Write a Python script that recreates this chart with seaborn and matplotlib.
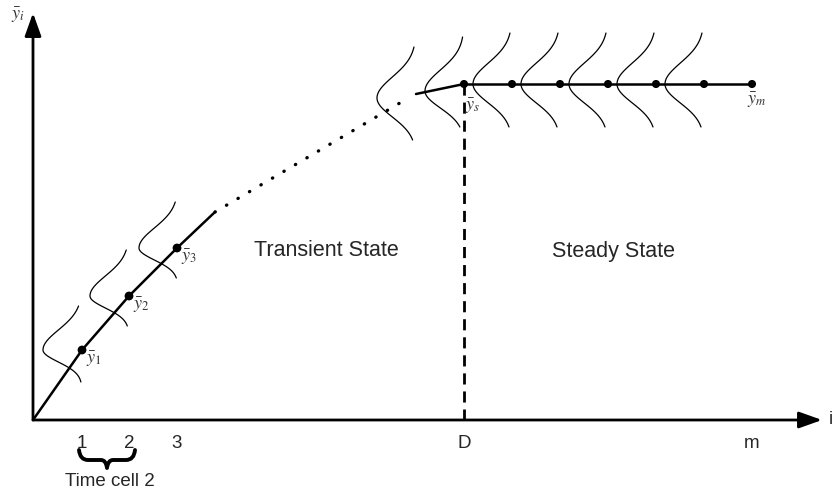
import numpy as np
import matplotlib
matplotlib.use('Agg')
import matplotlib.pyplot as plt
import seaborn as sns
from matplotlib.path import Path
from matplotlib.patches import PathPatch

# diagram drawn in pixel space of the original picture (x right, y down)
origin = (33, 420)

# transient means ybar_1..ybar_3
trans_x = [82, 129, 177]
trans_y = [350, 296, 248]
# end of the solid transient part, then the dotted gap
trans_end = (215, 212)
dot_end = (410, 97)
# short solid run into ybar_s
approach_start = (416, 94)
# steady state means ybar_s .. ybar_m
steady_x = [464, 512, 560, 608, 656, 704, 752]
steady_level = 84

# distribution curves: baseline x, centre y, extent above, extent below, sigma above, sigma below
curve_x = [82, 129, 178, 416, 464, 512, 560, 608, 656, 704]
curve_y = [350, 296, 248, 98, 91, 84, 84, 84, 84, 84]
curve_up = [44, 46, 46, 51, 54, 51, 51, 51, 51, 51]
curve_dn = [32, 30, 30, 42, 36, 43, 43, 43, 43, 43]
curve_sup = [20, 20, 20, 21, 21, 21, 21, 21, 21, 21]
curve_sdn = [12, 12, 12, 19, 17, 19, 19, 19, 19, 19]
curve_amp = 39

tick_labels = ['1', '2', '3', 'D', 'm']
tick_pos = [82, 129, 177, 464, 752]

sns.set_style('white')
plt.rcParams['mathtext.fontset'] = 'stix'
plt.rcParams['font.family'] = ['Liberation Sans', 'DejaVu Sans']

fig = plt.figure(figsize=(8.36, 4.92), dpi=100)
ax = fig.add_axes([0, 0, 1, 1])
ax.set_xlim(0, 836)
ax.set_ylim(492, 0)
ax.axis('off')

# axes with arrows
arrow = dict(arrowstyle='-|>,head_length=0.7,head_width=0.25', lw=2, color='black',
             mutation_scale=20, shrinkA=0, shrinkB=0)
ax.annotate('', xy=(822, origin[1]), xytext=origin, arrowprops=arrow)
ax.annotate('', xy=(origin[0], 13), xytext=origin, arrowprops=arrow)

# distributions
for cx, cy, up, dn, su, sd in zip(curve_x, curve_y, curve_up, curve_dn, curve_sup, curve_sdn):
    t_up = np.linspace(-up, 0, 60)
    t_dn = np.linspace(0, dn, 60)
    xs = np.concatenate([cx - curve_amp * np.exp(-t_up ** 2 / (2 * su ** 2)),
                         cx - curve_amp * np.exp(-t_dn ** 2 / (2 * sd ** 2))])
    ys = np.concatenate([cy + t_up, cy + t_dn])
    sns.lineplot(x=xs, y=ys, sort=False, estimator=None, ax=ax, color='black', lw=0.9)

# mean path
sx = [origin[0]] + trans_x + [trans_end[0]]
sy = [origin[1]] + trans_y + [trans_end[1]]
sns.lineplot(x=sx, y=sy, sort=False, estimator=None, ax=ax, color='black', lw=1.8)
ax.plot([trans_end[0], dot_end[0]], [trans_end[1], dot_end[1]], color='black', lw=2.4,
        linestyle=(0, (0.1, 3.9)), dash_capstyle='round')
sns.lineplot(x=[approach_start[0], steady_x[0]], y=[approach_start[1], steady_level],
             sort=False, estimator=None, ax=ax, color='black', lw=1.8)
sns.lineplot(x=steady_x, y=[steady_level] * len(steady_x), sort=False, estimator=None,
             ax=ax, color='black', lw=1.8)
ax.plot([steady_x[0], steady_x[0]], [steady_level, origin[1]], color='black', lw=2,
        linestyle=(0, (4, 2.5)))

sns.scatterplot(x=trans_x, y=trans_y, ax=ax, color='black', s=40, edgecolor='none', zorder=5)
sns.scatterplot(x=steady_x, y=[steady_level] * len(steady_x), ax=ax, color='black', s=34,
                edgecolor='none', zorder=5)

# mean labels
lab_col = '#333333'
ax.text(11, 15, r'$\bar{y}_i$', fontsize=13, color=lab_col, ha='left', va='center')
for i, (x, y) in enumerate(zip(trans_x, trans_y)):
    ax.text(x + 4, y + 9, r'$\bar{y}_%d$' % (i + 1), fontsize=13, color=lab_col,
            ha='left', va='center')
ax.text(steady_x[0] + 1, steady_level + 22, r'$\bar{y}_s$', fontsize=13, color=lab_col,
        ha='left', va='center')
ax.text(steady_x[-1] - 5, steady_level + 16, r'$\bar{y}_m$', fontsize=13, color=lab_col,
        ha='left', va='center')

# region labels
ax.text(326, 251, 'Transient State', fontsize=15.5, ha='center', va='center')
ax.text(614, 251, 'Steady State', fontsize=15.5, ha='center', va='center')

# tick labels
for lab, x in zip(tick_labels, tick_pos):
    ax.text(x, 443, lab, fontsize=13.5, ha='center', va='center')
ax.text(829, 420, 'i', fontsize=13.5, ha='left', va='center')

# brace under 1..2
verts = [(79, 450), (80, 460), (88, 460), (101, 460), (106, 460), (107, 468),
         (108, 460), (113, 460), (126, 460), (134, 460), (135, 450)]
codes = [Path.MOVETO, Path.CURVE3, Path.CURVE3, Path.LINETO, Path.CURVE3, Path.CURVE3,
         Path.CURVE3, Path.CURVE3, Path.LINETO, Path.CURVE3, Path.CURVE3]
ax.add_patch(PathPatch(Path(verts, codes), facecolor='none', edgecolor='black', lw=2.8,
                       capstyle='round', joinstyle='round'))
ax.text(110, 481, 'Time cell 2', fontsize=13.5, ha='center', va='center')

fig.savefig('out.png', dpi=100)
